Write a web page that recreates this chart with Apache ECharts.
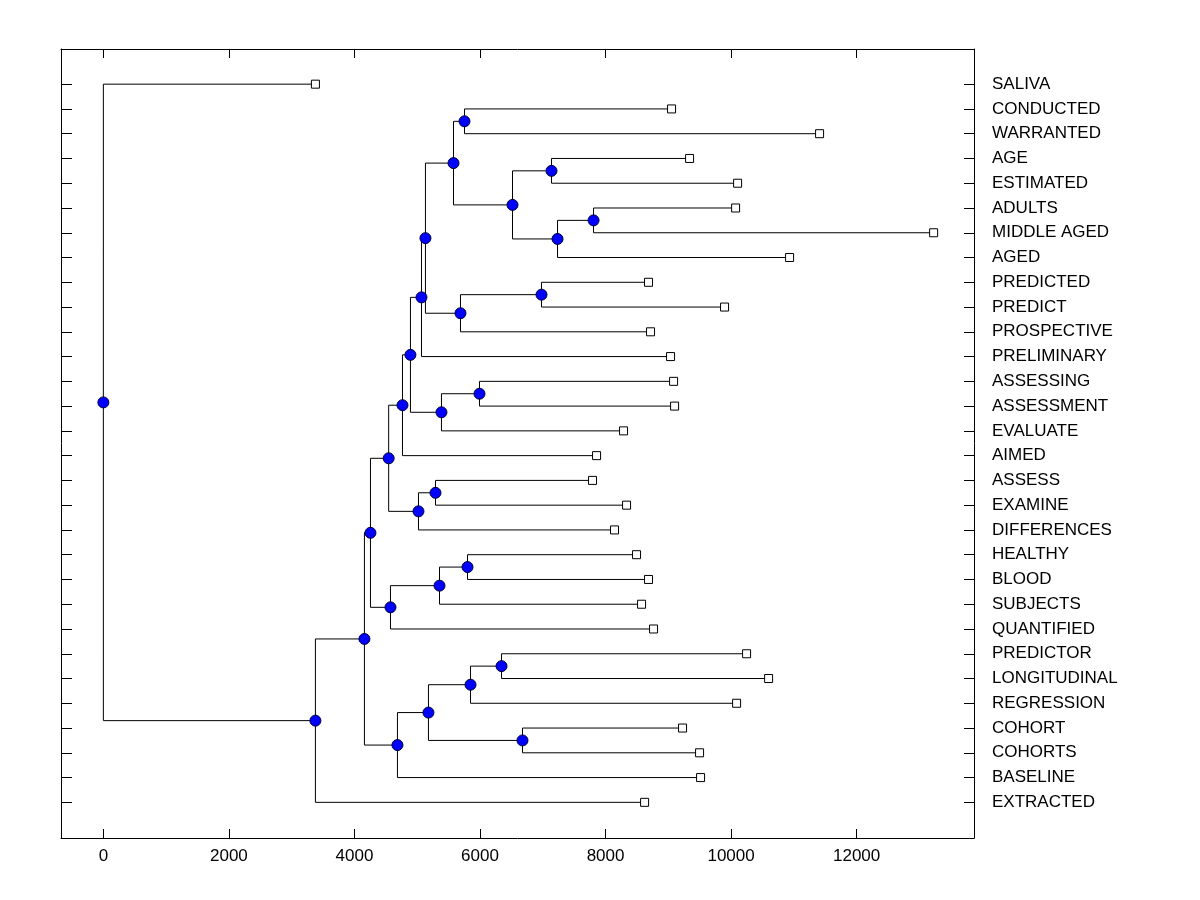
<!DOCTYPE html>
<html>
<head>
<meta charset="utf-8">
<script src="https://cdn.jsdelivr.net/npm/echarts@6/dist/echarts.min.js"></script>
<style>
html,body{margin:0;padding:0;background:#fff;}
#chart{width:1200px;height:900px;}
</style>
</head>
<body>
<div id="chart"></div>
<script>
// Leaves, top to bottom
const leafNames = ['SALIVA','CONDUCTED','WARRANTED','AGE','ESTIMATED','ADULTS','MIDDLE AGED','AGED',
  'PREDICTED','PREDICT','PROSPECTIVE','PRELIMINARY','ASSESSING','ASSESSMENT','EVALUATE','AIMED',
  'ASSESS','EXAMINE','DIFFERENCES','HEALTHY','BLOOD','SUBJECTS','QUANTIFIED','PREDICTOR',
  'LONGITUDINAL','REGRESSION','COHORT','COHORTS','BASELINE','EXTRACTED'];
// distance at which each leaf ends (square marker)
const leafHeights = [3378,9052,11410,9339,10104,10072,13227,10932,
  8685,9896,8717,9036,9084,9100,8287,7857,
  7793,8335,8143,8494,8685,8574,8765,10247,
  10598,10088,9227,9498,9514,8622];
// merges: children ids (0..29 leaves, 30+ earlier merges)
const mergePairs = [[1,2],[3,4],[5,6],[32,7],[31,33],[30,34],[8,9],[36,10],[35,37],[38,11],
  [12,13],[40,14],[39,41],[42,15],[16,17],[44,18],[43,45],[19,20],[47,21],[48,22],
  [46,49],[23,24],[51,25],[26,27],[52,53],[54,28],[50,55],[56,29],[0,57]];
const mergeHeights = [5753,7139,7809,7235,6518,5578,6980,5689,5131,5068,
  5992,5386,4892,4765,5291,5020,4545,5801,5355,4574,
  4255,6343,5849,6677,5179,4685,4159,3378,0];
const xTicks = [0,2000,4000,6000,8000,10000,12000];
const yTicks = leafNames.map((_, i) => i);

const pos = leafNames.map((_, i) => ({x: leafHeights[i], y: i}));
const segments = [];
const nodePts = [];
mergePairs.forEach((p, k) => {
  const a = pos[p[0]], b = pos[p[1]], h = mergeHeights[k];
  const y = (a.y + b.y) / 2;
  pos.push({x: h, y: y});
  segments.push({coords: [[a.x, a.y], [h, a.y], [h, b.y], [b.x, b.y]]});
  nodePts.push([h, y]);
});
const leafPts = leafNames.map((_, i) => [leafHeights[i], i]);

const FONT = 'Liberation Sans, Arial, sans-serif';
const axisLine = {show: true, onZero: false, lineStyle: {color: '#000', width: 1}};
const chart = echarts.init(document.getElementById('chart'), null, {renderer: 'canvas'});
chart.setOption({
  animation: false,
  backgroundColor: '#fff',
  grid: {left: 61, top: 49, right: 226, bottom: 62, containLabel: false, outerBoundsMode: 'none'},
  xAxis: [{
    type: 'value', position: 'bottom', min: -675, max: 13870,
    axisLine: axisLine, splitLine: {show: false},
    axisTick: {show: true, inside: true, length: 9, lineStyle: {color: '#000'}, customValues: xTicks},
    axisLabel: {show: true, customValues: xTicks, margin: 10, color: '#000', fontSize: 17, fontFamily: FONT,
      formatter: v => String(v)}
  }, {
    type: 'value', position: 'top', min: -675, max: 13870,
    axisLine: axisLine, splitLine: {show: false},
    axisTick: {show: true, inside: true, length: 9, lineStyle: {color: '#000'}, customValues: xTicks},
    axisLabel: {show: false}
  }],
  yAxis: [{
    type: 'value', position: 'left', inverse: true, min: -1.42, max: 30.44,
    axisLine: axisLine, splitLine: {show: false},
    axisTick: {show: true, inside: true, length: 11, lineStyle: {color: '#000'}, customValues: yTicks},
    axisLabel: {show: false}
  }, {
    type: 'value', position: 'right', inverse: true, min: -1.42, max: 30.44,
    axisLine: axisLine, splitLine: {show: false},
    axisTick: {show: true, inside: true, length: 10, lineStyle: {color: '#000'}, customValues: yTicks},
    axisLabel: {show: true, customValues: yTicks, margin: 18, color: '#000', fontSize: 17, fontFamily: FONT,
      align: 'left', padding: [3, 0, 0, 0], formatter: v => leafNames[Math.round(v)] || ''}
  }],
  series: [{
    type: 'lines', coordinateSystem: 'cartesian2d', xAxisIndex: 0, yAxisIndex: 0,
    polyline: true, silent: true, z: 2,
    lineStyle: {color: '#000', width: 1, opacity: 1},
    data: segments
  }, {
    type: 'scatter', xAxisIndex: 0, yAxisIndex: 0, z: 3, silent: true,
    symbol: 'rect', symbolSize: 8,
    itemStyle: {color: '#fff', borderColor: '#000', borderWidth: 1, opacity: 1},
    data: leafPts
  }, {
    type: 'scatter', xAxisIndex: 0, yAxisIndex: 0, z: 4, silent: true,
    symbol: 'circle', symbolSize: 11,
    itemStyle: {color: '#0000ff', borderColor: '#000033', borderWidth: 1, opacity: 1},
    data: nodePts
  }]
});
</script>
</body>
</html>
